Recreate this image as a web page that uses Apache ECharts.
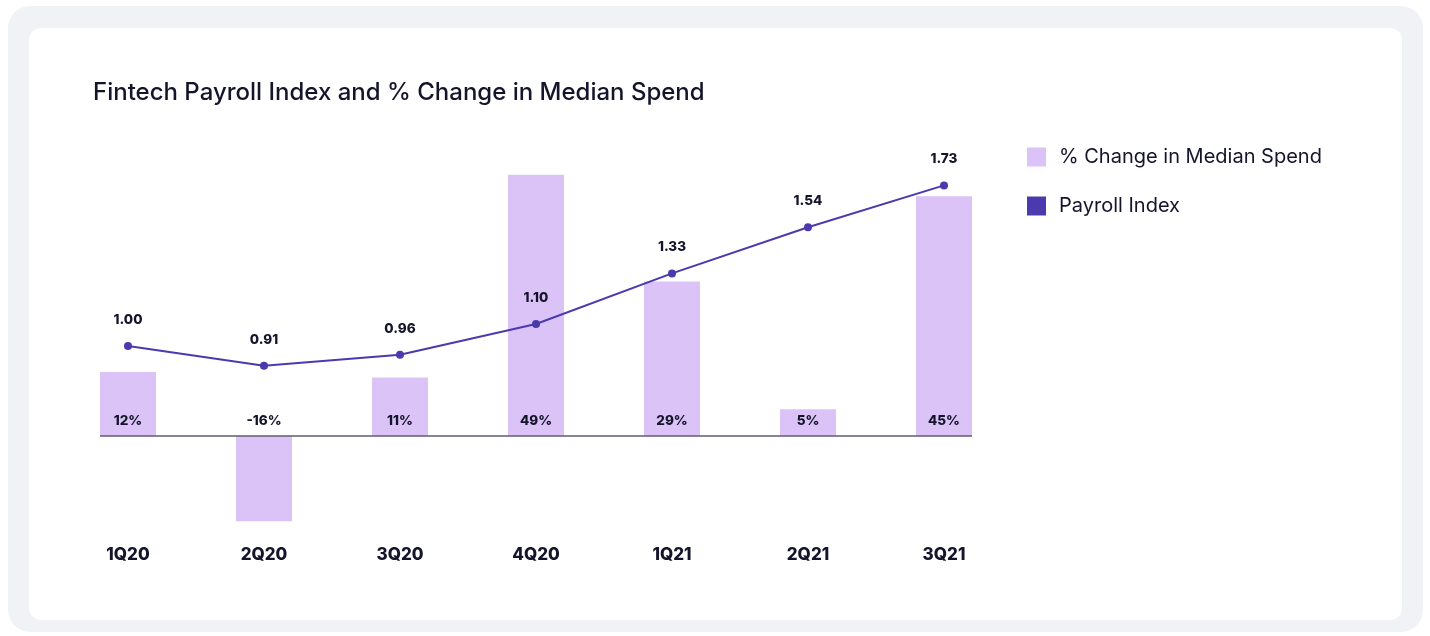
<!DOCTYPE html>
<html>
<head>
<meta charset="utf-8">
<script src="https://cdn.jsdelivr.net/npm/echarts@6/dist/echarts.min.js"></script>
<style>
  html, body { margin: 0; padding: 0; background: #ffffff; }
  .outer { position: absolute; left: 8px; top: 6px; width: 1415px; height: 626px; background: #f1f2f6; border-radius: 22px; }
  .card { position: absolute; left: 29px; top: 28px; width: 1373px; height: 592px; background: #ffffff; border-radius: 12px; }
  #chart { position: absolute; left: 0; top: 0; width: 1430px; height: 636px; }
</style>
</head>
<body>
<div class="outer"></div>
<div class="card"></div>
<div id="chart"></div>
<script>
// data
const quarters = ['1Q20', '2Q20', '3Q20', '4Q20', '1Q21', '2Q21', '3Q21'];
const spendChange = [12, -16, 11, 49, 29, 5, 45];          // % change in median spend
const payrollIndex = [1.00, 0.91, 0.96, 1.10, 1.33, 1.54, 1.73];

const ink = '#14142b';
const barColor = '#dbc3f7';
const lineColor = '#4a3aad';
const barW = 56;

const chart = echarts.init(document.getElementById('chart'), null, { renderer: 'canvas' });

// negative bar gets its label above the baseline
const barData = spendChange.map(v => v < 0
  ? { value: v, label: { position: 'top', distance: 8 } }
  : v);

let option = {
  animation: false,
  title: {
    text: 'Fintech Payroll Index and % Change in Median Spend',
    left: 88, top: 76,
    textStyle: { fontFamily: 'Inter', fontSize: 24, fontWeight: 500, color: ink }
  },
  legend: {
    orient: 'vertical',
    left: 1022, top: 142,
    itemWidth: 19, itemHeight: 19, itemGap: 29,
    icon: 'rect',
    textStyle: { fontFamily: 'Inter', fontSize: 20, color: ink, padding: [0, 0, 0, 8] },
    data: ['% Change in Median Spend', 'Payroll Index']
  },
  grid: { left: 60, right: 418, top: 126, bottom: 114 },
  xAxis: {
    type: 'category',
    data: quarters,
    axisLine: { show: false },
    axisTick: { show: false },
    axisLabel: { margin: 24, fontFamily: 'Inter', fontSize: 17, fontWeight: 800, color: ink }
  },
  yAxis: [
    { type: 'value', min: -16.13, max: 58.16, show: false, splitLine: { show: false } },
    { type: 'value', min: 0.2, max: 2.0, show: false, splitLine: { show: false } }
  ],
  series: [
    {
      name: '% Change in Median Spend',
      type: 'bar',
      yAxisIndex: 0,
      barWidth: barW,
      data: barData,
      itemStyle: { color: barColor },
      label: {
        show: true, position: 'insideBottom', distance: 8,
        formatter: p => p.value + '%',
        fontFamily: 'Inter', fontSize: 13.5, fontWeight: 800, color: ink
      }
    },
    {
      name: 'Payroll Index',
      type: 'line',
      yAxisIndex: 1,
      data: payrollIndex,
      symbol: 'circle', symbolSize: 8,
      lineStyle: { color: lineColor, width: 2 },
      itemStyle: { color: lineColor },
      label: {
        show: true, position: 'top', distance: 15,
        formatter: p => p.value.toFixed(2),
        fontFamily: 'Inter', fontSize: 13.5, fontWeight: 800, color: ink
      },
      z: 3
    }
  ]
};
chart.setOption(option);

// baseline at zero, spanning from the first bar's left edge to the last bar's right edge
const x0 = chart.convertToPixel({ xAxisIndex: 0 }, quarters[0]) - barW / 2;
const x1 = chart.convertToPixel({ xAxisIndex: 0 }, quarters[quarters.length - 1]) + barW / 2;
chart.setOption({
  series: [{
    name: '% Change in Median Spend',
    markLine: {
      silent: true, symbol: 'none', label: { show: false },
      lineStyle: { color: '#5c5c70', width: 1.5, type: 'solid' },
      data: [[{ x: x0, yAxis: 0 }, { x: x1, yAxis: 0 }]]
    }
  }]
});
</script>
</body>
</html>
